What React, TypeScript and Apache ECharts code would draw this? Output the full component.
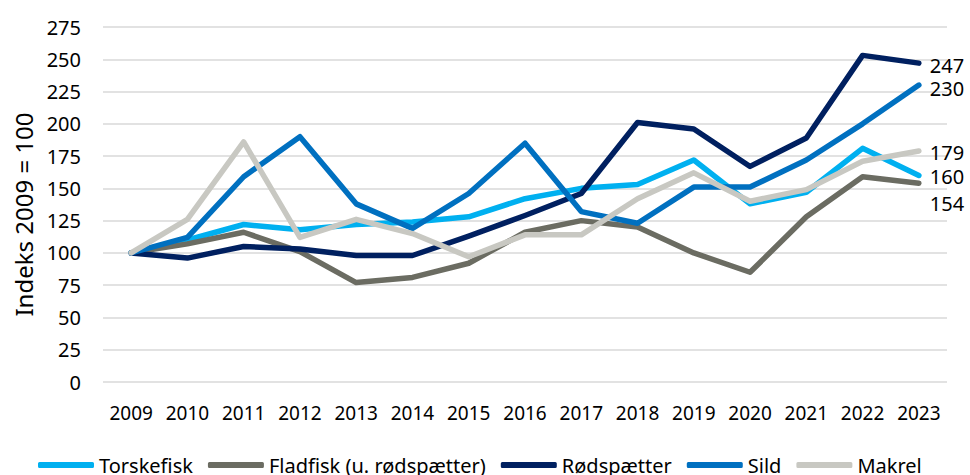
import React, { useEffect, useRef } from "react";
import * as echarts from "echarts";

const years = ["2009","2010","2011","2012","2013","2014","2015","2016","2017","2018","2019","2020","2021","2022","2023"];
const torskefisk = [100,110,122,118,122,124,128,142,150,153,172,138,147,181,160];
const fladfisk = [100,107,116,101,77,81,92,116,125,120,100,85,128,159,154];
const rodspaetter = [100,96,105,103,98,98,113,129,146,201,196,167,189,253,247];
const sild = [100,112,159,190,138,119,146,185,132,123,151,151,172,200,230];
const makrel = [100,126,186,112,126,115,97,114,114,142,162,140,149,171,179];

const FONT = "Noto Sans";

function mkSeries(name: string, data: number[], color: string, offsetY: number) {
  return {
    name,
    type: "line",
    data,
    symbol: "none",
    showSymbol: false,
    lineStyle: { color, width: 5.5, cap: "round", join: "round" },
    itemStyle: { color },
    endLabel: {
      show: true,
      formatter: "{c}",
      distance: 11,
      offset: [0, offsetY],
      color: "#000",
      fontSize: 20,
      lineHeight: 20,
      fontFamily: FONT,
    },
    emphasis: { disabled: true },
  };
}

export default function App() {
  const ref = useRef<HTMLDivElement>(null);
  useEffect(() => {
    if (!ref.current) return;
    const chart = echarts.init(ref.current, null, { renderer: "svg" });
    chart.setOption({
      animation: false,
      backgroundColor: "#fff",
      grid: { left: 103, right: 23, top: 27, bottom: 93 },
      legend: {
        left: 33,
        top: 450,
        icon: "roundRect",
        itemWidth: 56,
        itemHeight: 6,
        itemGap: 15,
        textStyle: { fontSize: 20, fontFamily: FONT, color: "#000" },
        data: ["Torskefisk", "Fladfisk (u. rødspætter)", "Rødspætter", "Sild", "Makrel"],
      },
      xAxis: {
        type: "category",
        data: years,
        boundaryGap: true,
        axisLine: { show: false },
        axisTick: { show: false },
        axisLabel: { fontSize: 19, fontFamily: FONT, color: "#000", margin: 21, interval: 0 },
      },
      yAxis: {
        type: "value",
        min: 0,
        max: 275,
        interval: 25,
        name: "Indeks 2009 = 100",
        nameLocation: "middle",
        nameRotate: 90,
        nameGap: 64,
        nameTextStyle: { fontSize: 24, fontFamily: FONT, color: "#000", padding: [0, 20, 0, 0] },
        axisLine: { show: false },
        axisTick: { show: false },
        axisLabel: { fontSize: 20, fontFamily: FONT, color: "#000", margin: 22 },
        splitLine: { lineStyle: { color: "#D9D9D9", width: 1.5 } },
      },
      series: [
        mkSeries("Torskefisk", torskefisk, "#00B0F0", 1),
        mkSeries("Fladfisk (u. rødspætter)", fladfisk, "#6B6C62", 20),
        mkSeries("Rødspætter", rodspaetter, "#002060", 2),
        mkSeries("Sild", sild, "#0070C0", 3),
        mkSeries("Makrel", makrel, "#C8C8C2", 2),
      ],
    });
    return () => chart.dispose();
  }, []);
  return (
    <div
      ref={ref}
      style={{ position: "fixed", left: 0, top: 0, width: 970, height: 475 }}
    />
  );
}
